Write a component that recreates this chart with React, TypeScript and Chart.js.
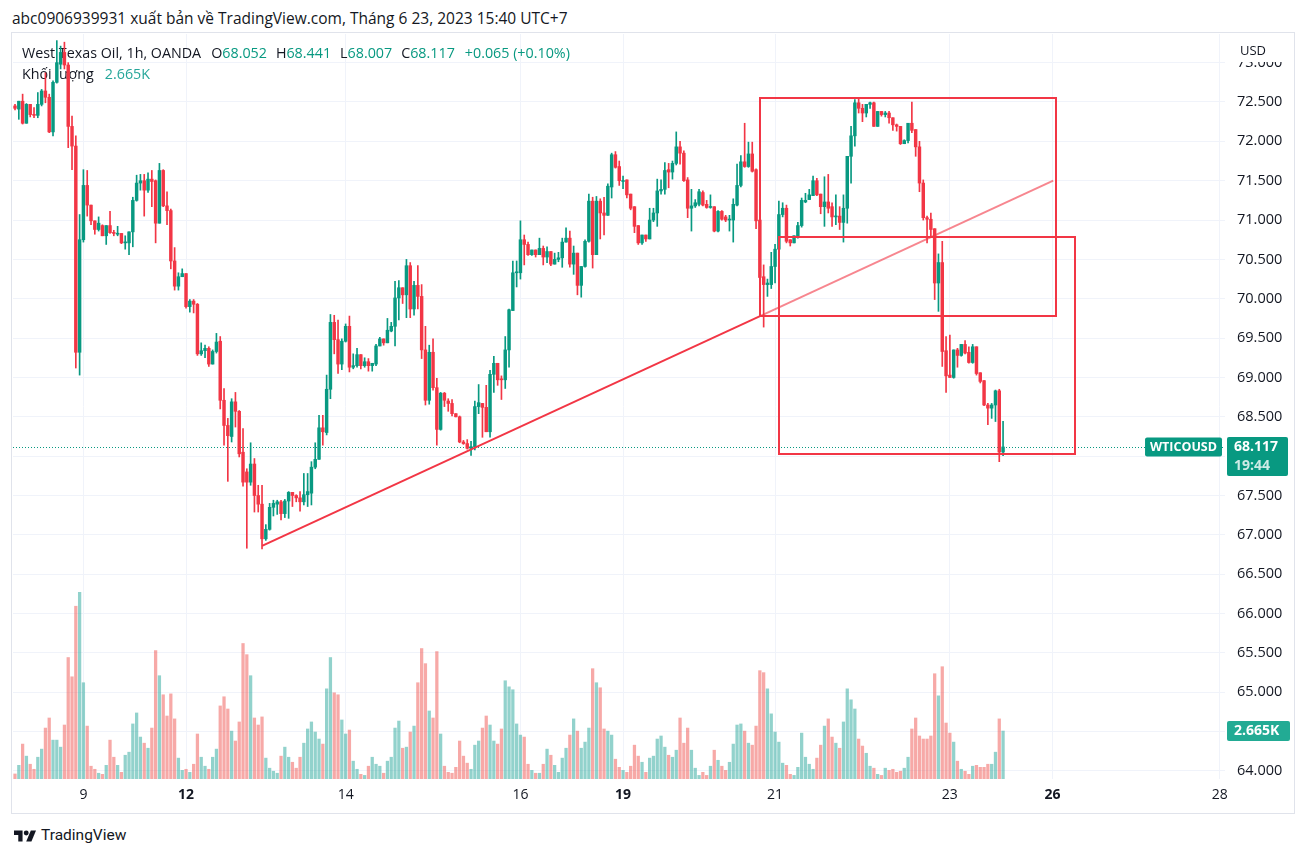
import React, { useEffect, useRef } from "react";
import { Chart, registerables } from "chart.js";

Chart.register(...registerables);

const FONT = "'Open Sans', Roboto, 'Noto Sans', sans-serif";
const UP = "#089981";
const DOWN = "#F23645";
const VUP = "rgba(38,166,154,0.5)";
const VDOWN = "rgba(239,83,80,0.5)";
const DARK = "#131722";
const GRID = "#f0f3fa";

// ---- data (hourly candles, WTICOUSD) ----
const opens = [
  72.45, 72.41, 72.51, 72.23, 72.47, 72.34, 72.33, 72.47, 72.64, 72.56,
  72.12, 72.75, 72.98, 73.13, 72.97, 72.19, 71.94, 69.32, 70.75, 71.44,
  71.19, 70.99, 70.88, 70.93, 70.80, 70.93, 70.84, 70.82, 70.83, 70.71,
  70.71, 70.85, 71.25, 71.47, 71.50, 71.38, 71.52, 71.50, 70.96, 71.63,
  71.18, 71.12, 70.48, 70.16, 70.28, 70.32, 69.90, 69.97, 69.93, 69.30,
  69.34, 69.37, 69.17, 69.33, 69.46, 68.71, 68.39, 68.25, 68.69, 68.57,
  68.05, 67.80, 67.67, 67.90, 67.50, 67.39, 66.95, 67.07, 67.35, 67.39,
  67.42, 67.27, 67.43, 67.54, 67.50, 67.47, 67.42, 67.51, 67.53, 67.86,
  67.96, 68.36, 68.30, 68.85, 69.70, 69.48, 69.17, 69.46, 69.65, 69.13,
  69.15, 69.29, 69.15, 69.20, 69.15, 69.17, 69.40, 69.49, 69.44, 69.59,
  69.65, 70.01, 70.14, 70.05, 70.42, 69.87, 70.17, 70.03, 69.35, 68.71,
  69.32, 68.87, 68.34, 68.80, 68.70, 68.67, 68.54, 68.50, 68.18, 68.16,
  68.10, 68.12, 68.63, 68.67, 68.62, 68.31, 69.04, 69.18, 68.98, 68.97,
  69.35, 69.85, 70.33, 70.33, 70.75, 70.69, 70.56, 70.62, 70.56, 70.64,
  70.53, 70.60, 70.44, 70.50, 70.52, 70.72, 70.77, 70.44, 70.58, 70.17,
  70.41, 70.73, 71.24, 70.56, 71.24, 71.09, 71.06, 71.42, 71.83, 71.68,
  71.49, 71.51, 71.33, 71.17, 70.93, 70.71, 70.81, 70.76, 71.00, 71.09,
  71.37, 71.39, 71.64, 71.61, 71.72, 71.93, 71.85, 71.51, 71.15, 71.18,
  71.20, 71.35, 71.20, 71.16, 71.17, 70.86, 71.11, 71.04, 71.00, 71.00,
  71.19, 71.44, 71.74, 71.68, 71.84, 71.64, 71.00, 70.28, 70.18, 70.18,
  70.41, 70.63, 71.07, 71.15, 70.75, 70.71, 70.78, 70.93, 71.23, 71.26,
  71.31, 71.50, 71.33, 71.17, 71.23, 71.17, 71.04, 71.05, 70.97, 71.15,
  71.81, 72.07, 72.49, 72.42, 72.36, 72.47, 72.49, 72.19, 72.38, 72.34,
  72.36, 72.30, 72.21, 72.19, 71.97, 72.01, 72.23, 72.15, 71.93, 71.47,
  71.03, 71.01, 70.89, 70.20, 70.46, 69.34, 69.03, 69.00, 69.35, 69.28,
  69.42, 69.32, 69.19, 69.39, 69.06, 68.96, 68.65, 68.61, 68.65, 68.83,
  68.052,
];

const highs = [
  72.47, 72.51, 72.60, 72.48, 72.47, 72.43, 72.62, 72.66, 72.87, 72.60,
  72.77, 73.28, 73.21, 73.26, 73.00, 72.32, 72.07, 71.07, 71.64, 71.63,
  71.19, 70.99, 71.04, 70.94, 70.93, 71.11, 70.87, 70.92, 70.83, 70.80,
  70.85, 71.29, 71.57, 71.58, 71.58, 71.60, 71.63, 71.51, 71.72, 71.64,
  71.36, 71.14, 70.65, 70.33, 70.38, 70.32, 69.99, 69.99, 69.94, 69.44,
  69.41, 69.39, 69.35, 69.56, 69.52, 68.86, 68.48, 68.73, 68.81, 68.58,
  68.35, 67.84, 68.17, 67.97, 67.63, 67.63, 67.13, 67.40, 67.44, 67.44,
  67.44, 67.45, 67.55, 67.54, 67.51, 67.55, 67.78, 67.78, 67.93, 68.17,
  68.52, 68.52, 69.03, 69.80, 69.79, 69.73, 69.49, 69.68, 69.78, 69.30,
  69.37, 69.29, 69.25, 69.24, 69.18, 69.42, 69.51, 69.49, 69.75, 69.70,
  70.22, 70.23, 70.14, 70.50, 70.46, 70.22, 70.42, 70.18, 69.65, 69.41,
  69.49, 68.99, 68.81, 68.81, 68.73, 68.72, 68.54, 68.51, 68.20, 68.21,
  68.19, 68.70, 68.91, 68.67, 68.90, 69.09, 69.27, 69.18, 69.02, 69.52,
  69.87, 70.48, 70.48, 70.99, 70.81, 70.72, 70.62, 70.62, 70.77, 70.67,
  70.66, 70.60, 70.58, 70.59, 70.77, 70.90, 70.86, 70.67, 70.58, 70.41,
  70.75, 71.33, 71.29, 71.30, 71.27, 71.29, 71.46, 71.85, 71.87, 71.75,
  71.56, 71.51, 71.33, 71.17, 70.93, 70.81, 70.81, 71.15, 71.15, 71.52,
  71.51, 71.73, 71.72, 71.75, 72.12, 72.00, 71.88, 71.54, 71.39, 71.26,
  71.39, 71.37, 71.25, 71.32, 71.17, 71.12, 71.12, 71.06, 71.06, 71.27,
  71.71, 71.82, 72.23, 71.99, 71.99, 71.65, 71.02, 70.43, 70.25, 70.59,
  70.69, 71.24, 71.22, 71.19, 70.75, 70.80, 70.97, 71.28, 71.34, 71.39,
  71.56, 71.53, 71.33, 71.55, 71.58, 71.22, 71.32, 71.17, 71.32, 71.81,
  72.19, 72.53, 72.55, 72.47, 72.47, 72.50, 72.50, 72.38, 72.38, 72.38,
  72.38, 72.30, 72.22, 72.19, 72.02, 72.23, 72.50, 72.15, 72.00, 71.51,
  71.05, 71.09, 70.89, 70.57, 70.73, 69.52, 69.54, 69.35, 69.37, 69.42,
  69.47, 69.39, 69.42, 69.39, 69.06, 68.96, 68.67, 68.67, 68.84, 68.85,
  68.441,
];

const lows = [
  72.40, 72.28, 72.22, 72.23, 72.31, 72.30, 72.30, 72.45, 72.49, 72.11,
  72.07, 72.74, 72.92, 72.92, 71.92, 71.64, 69.12, 69.03, 70.72, 71.05,
  70.94, 70.82, 70.86, 70.80, 70.69, 70.83, 70.80, 70.80, 70.70, 70.63,
  70.56, 70.66, 71.24, 71.38, 71.05, 71.35, 71.17, 70.71, 70.96, 71.17,
  70.94, 70.38, 70.11, 70.11, 70.28, 69.88, 69.83, 69.82, 69.28, 69.28,
  69.25, 69.14, 69.17, 69.31, 68.60, 68.14, 67.68, 68.18, 68.37, 67.99,
  67.62, 66.83, 67.63, 67.29, 67.29, 66.82, 66.93, 67.06, 67.24, 67.26,
  67.19, 67.22, 67.21, 67.36, 67.42, 67.30, 67.38, 67.36, 67.38, 67.84,
  67.96, 68.14, 68.27, 68.73, 69.30, 69.05, 69.10, 69.45, 69.07, 69.11,
  69.13, 69.11, 69.13, 69.08, 69.08, 69.15, 69.40, 69.41, 69.44, 69.58,
  69.40, 69.73, 69.94, 69.76, 69.76, 69.79, 69.87, 69.24, 68.65, 68.66,
  68.84, 68.14, 68.33, 68.63, 68.57, 68.51, 68.50, 68.17, 68.15, 68.09,
  68.01, 68.08, 68.54, 68.24, 68.31, 68.24, 68.81, 68.90, 68.72, 68.86,
  69.13, 69.85, 70.15, 70.25, 70.43, 70.55, 70.55, 70.53, 70.56, 70.43,
  70.46, 70.42, 70.44, 70.47, 70.40, 70.72, 70.40, 70.31, 70.05, 70.02,
  70.40, 70.72, 70.39, 70.56, 70.76, 70.81, 71.06, 71.28, 71.66, 71.44,
  71.40, 71.28, 71.13, 70.84, 70.69, 70.69, 70.73, 70.76, 70.98, 70.92,
  71.33, 71.33, 71.41, 71.52, 71.70, 71.71, 71.49, 71.03, 70.86, 71.16,
  71.18, 71.18, 71.15, 71.15, 70.85, 70.85, 71.00, 70.98, 70.86, 70.72,
  71.18, 71.42, 71.67, 71.67, 71.61, 70.89, 70.26, 69.64, 70.03, 70.13,
  70.20, 70.42, 71.04, 70.71, 70.67, 70.71, 70.77, 70.91, 71.22, 71.26,
  71.31, 71.31, 71.08, 70.92, 71.09, 70.92, 70.94, 70.88, 70.72, 70.96,
  71.47, 71.94, 72.36, 72.25, 72.31, 72.42, 72.19, 72.19, 72.32, 72.31,
  72.23, 72.14, 72.13, 71.96, 71.97, 71.98, 72.11, 71.81, 71.36, 71.00,
  70.71, 70.80, 69.99, 69.84, 69.14, 68.81, 69.00, 68.99, 69.13, 69.27,
  69.30, 69.18, 69.18, 69.03, 68.93, 68.64, 68.40, 68.48, 68.44, 67.93,
  68.007,
];

const closes = [
  72.42, 72.51, 72.23, 72.47, 72.34, 72.33, 72.47, 72.64, 72.56, 72.12,
  72.75, 73.00, 73.13, 72.97, 72.19, 71.94, 69.32, 70.75, 71.44, 71.19,
  70.99, 70.88, 70.96, 70.80, 70.93, 70.84, 70.83, 70.83, 70.71, 70.72,
  70.85, 71.25, 71.47, 71.50, 71.38, 71.52, 71.49, 70.96, 71.63, 71.18,
  71.12, 70.48, 70.16, 70.28, 70.32, 69.90, 69.97, 69.93, 69.30, 69.34,
  69.37, 69.17, 69.33, 69.45, 68.71, 68.39, 68.26, 68.69, 68.57, 68.03,
  67.67, 67.67, 67.90, 67.50, 67.39, 66.95, 67.07, 67.35, 67.40, 67.42,
  67.27, 67.43, 67.54, 67.50, 67.47, 67.42, 67.51, 67.55, 67.86, 67.96,
  68.36, 68.31, 68.85, 69.70, 69.48, 69.17, 69.46, 69.65, 69.13, 69.15,
  69.29, 69.15, 69.20, 69.15, 69.18, 69.40, 69.49, 69.44, 69.60, 69.65,
  70.01, 70.14, 70.05, 70.42, 69.87, 70.17, 70.03, 69.35, 68.71, 69.32,
  68.87, 68.34, 68.80, 68.71, 68.67, 68.54, 68.50, 68.18, 68.16, 68.10,
  68.12, 68.63, 68.68, 68.62, 68.31, 69.04, 69.18, 68.97, 68.97, 69.35,
  69.86, 70.33, 70.34, 70.75, 70.69, 70.56, 70.62, 70.56, 70.64, 70.53,
  70.60, 70.44, 70.50, 70.52, 70.72, 70.77, 70.44, 70.58, 70.17, 70.41,
  70.73, 71.24, 70.56, 71.24, 71.09, 71.06, 71.43, 71.83, 71.67, 71.50,
  71.50, 71.32, 71.15, 70.92, 70.71, 70.81, 70.76, 71.00, 71.09, 71.37,
  71.39, 71.63, 71.61, 71.72, 71.93, 71.85, 71.50, 71.15, 71.18, 71.22,
  71.36, 71.19, 71.16, 71.17, 70.86, 71.11, 71.01, 71.00, 71.01, 71.20,
  71.44, 71.74, 71.68, 71.84, 71.62, 70.99, 70.27, 70.18, 70.20, 70.41,
  70.63, 71.07, 71.15, 70.73, 70.71, 70.80, 70.93, 71.25, 71.25, 71.32,
  71.50, 71.32, 71.17, 71.23, 71.15, 71.04, 71.05, 70.97, 71.15, 71.81,
  72.07, 72.49, 72.42, 72.36, 72.47, 72.49, 72.19, 72.38, 72.34, 72.36,
  72.30, 72.21, 72.19, 71.97, 72.01, 72.23, 72.14, 71.93, 71.47, 71.03,
  71.01, 70.88, 70.20, 70.46, 69.33, 69.02, 69.00, 69.35, 69.28, 69.42,
  69.31, 69.19, 69.39, 69.05, 68.95, 68.65, 68.61, 68.65, 68.83, 68.052,
  68.117,
];

// volume in thousands
const volumes = [
  0.28, 0.76, 1.94, 1.27, 0.82, 0.54, 1.21, 1.66, 2.83, 3.39,
  2.16, 2.16, 1.77, 3.00, 6.75, 5.68, 9.60, 10.38, 5.35, 2.94,
  0.71, 0.54, 0.32, 0.26, 0.76, 2.16, 1.21, 0.76, 0.37, 1.32,
  1.49, 3.06, 3.67, 2.33, 1.99, 1.71, 2.83, 7.14, 5.74, 4.68,
  3.50, 4.73, 3.34, 1.16, 0.48, 0.54, 0.37, 0.82, 2.50, 1.21,
  0.71, 0.54, 1.21, 1.66, 4.06, 4.57, 3.89, 2.66, 2.11, 3.17,
  7.53, 6.91, 5.74, 3.39, 3.00, 3.45, 1.16, 0.60, 0.43, 0.32,
  1.27, 1.77, 1.21, 0.93, 0.60, 1.21, 1.99, 2.78, 3.17, 2.61,
  2.22, 1.94, 5.01, 6.75, 4.79, 4.68, 3.28, 2.50, 2.72, 0.99,
  0.54, 0.26, 0.20, 0.71, 1.21, 0.82, 0.71, 0.32, 0.99, 1.21,
  2.83, 3.22, 1.71, 1.77, 2.61, 2.94, 5.35, 7.25, 6.41, 3.78,
  3.39, 7.08, 2.50, 0.71, 0.37, 0.32, 0.65, 2.11, 1.27, 0.88,
  0.54, 1.88, 2.11, 2.83, 3.50, 3.00, 2.11, 1.94,
  2.78, 5.46, 5.12, 4.96, 3.06, 2.44, 2.33, 0.82, 0.48, 0.32,
  0.32, 0.82, 1.66, 1.32, 0.76, 0.37, 1.16, 1.71, 2.44, 3.34,
  2.66, 1.71, 2.05, 2.83, 6.13, 5.35, 5.07, 2.78, 2.66, 2.44,
  1.10, 0.65, 0.48, 0.37, 0.71, 1.88, 1.27, 0.93, 0.37, 1.16,
  1.27, 2.22, 2.39, 1.77, 1.32, 1.21, 1.60, 3.39, 1.99, 2.83,
  1.60, 0.60, 0.20, 0.37, 0.20, 0.71, 1.60, 1.04, 0.71, 0.48,
  0.93, 1.94, 3.00, 3.06, 2.66, 1.99, 1.88, 2.94, 6.02, 5.91,
  5.01, 3.62, 2.61, 2.05, 0.88, 0.76, 0.26, 0.20, 0.65, 2.55,
  1.21, 0.82, 0.54, 1.16, 1.88, 2.94, 3.34, 2.33, 1.99, 1.71,
  3.17, 5.01, 4.40, 3.89, 2.22, 1.83, 1.43, 0.71, 0.60, 0.26,
  0.20, 0.60, 0.48, 0.54, 0.37, 0.43, 0.60, 1.21, 2.78, 3.39,
  2.39, 2.22, 2.22, 2.39, 5.85, 4.62, 6.24, 3.11, 2.55, 2.05,
  0.99, 0.54, 0.43, 0.26, 0.71, 0.76, 0.65, 0.65, 0.82, 0.82,
  1.49, 3.34, 2.665,
];

// x-axis: bar index where each labelled day starts
const dayTickIndex = [18, 45, 87, 133, 160, 200, 246, 273, 317];
const dayTickLabels = ["9", "12", "14", "16", "19", "21", "23", "26", "28"];
const dayTickBold = [false, true, false, false, true, false, false, true, false];

const priceTicks = [
  64.0, 64.5, 65.0, 65.5, 66.0, 66.5, 67.0, 67.5, 68.0, 68.5,
  69.0, 69.5, 70.0, 70.5, 71.0, 71.5, 72.0, 72.5, 73.0,
];

// drawings (bar index, price)
const trendPoints = [
  [65, 66.86],
  [196.05, 69.78],
  [273.2, 71.5],
];
const boxRects = [
  [196.05, 72.55, 273.9, 69.78],
  [201.1, 70.79, 278.9, 68.03],
];

const symbolTitle = "West Texas Oil, 1h, OANDA";
const volumeTitle = "Khối lượng";
const tickerName = "WTICOUSD";
const countdown = "19:44";
const headerText =
  "abc0906939931 xuất bản về TradingView.com, Tháng 6 23, 2023 15:40 UTC+7";

const fmtK = (v: number) => v.toFixed(3) + "K";

const overlayPlugin = {
  id: "tvOverlay",
  beforeDatasetsDraw(chart: any) {
    const { ctx, chartArea: a, scales } = chart;
    const last = closes.length - 1;
    const py = Math.round(scales.y.getPixelForValue(closes[last])) + 0.5;
    ctx.save();
    ctx.strokeStyle = UP;
    ctx.lineWidth = 1;
    ctx.setLineDash([1, 2]);
    ctx.beginPath();
    ctx.moveTo(a.left, py);
    ctx.lineTo(a.right, py);
    ctx.stroke();
    ctx.setLineDash([]);

    // legend
    ctx.font = `14.3px ${FONT}`;
    ctx.textBaseline = "middle";
    ctx.textAlign = "left";
    const ch = closes[last] - closes[last - 1];
    const sign = ch >= 0 ? "+" : "";
    const pct = (ch / closes[last - 1]) * 100;
    const line1: [string, string, number][] = [
      [symbolTitle, DARK, 10],
      ["O", DARK, 0],
      [opens[last].toFixed(3), UP, 9],
      ["H", DARK, 0],
      [highs[last].toFixed(3), UP, 9],
      ["L", DARK, 0],
      [lows[last].toFixed(3), UP, 9],
      ["C", DARK, 0],
      [closes[last].toFixed(3), UP, 10],
      [`${sign}${ch.toFixed(3)} (${sign}${pct.toFixed(2)}%)`, UP, 0],
    ];
    let x = a.left + 9;
    for (const [t, c, g] of line1) {
      ctx.fillStyle = c;
      ctx.fillText(t, x, a.top + 20);
      x += ctx.measureText(t).width + g;
    }
    const line2: [string, string, number][] = [
      [volumeTitle, DARK, 11],
      [fmtK(volumes[last]), "#26a69a", 0],
    ];
    x = a.left + 9;
    for (const [t, c, g] of line2) {
      ctx.fillStyle = c;
      ctx.fillText(t, x, a.top + 40.5);
      x += ctx.measureText(t).width + g;
    }
    ctx.restore();
  },
  afterDatasetsDraw(chart: any) {
    const { ctx, chartArea: a, scales } = chart;
    const X = (v: number) => scales.x.getPixelForValue(v);
    const Y = (v: number) => scales.y.getPixelForValue(v);
    ctx.save();
    ctx.beginPath();
    ctx.rect(a.left, a.top, a.right - a.left, a.bottom - a.top);
    ctx.clip();
    ctx.lineWidth = 2;
    // trend line
    ctx.strokeStyle = DOWN;
    ctx.beginPath();
    ctx.moveTo(X(trendPoints[0][0]), Y(trendPoints[0][1]));
    ctx.lineTo(X(trendPoints[1][0]), Y(trendPoints[1][1]));
    ctx.stroke();
    ctx.strokeStyle = "rgba(242,54,69,0.6)";
    ctx.beginPath();
    ctx.moveTo(X(trendPoints[1][0]), Y(trendPoints[1][1]));
    ctx.lineTo(X(trendPoints[2][0]), Y(trendPoints[2][1]));
    ctx.stroke();
    // rectangles
    ctx.strokeStyle = DOWN;
    for (const [x0, p0, x1, p1] of boxRects) {
      const l = Math.round(X(x0));
      const r = Math.round(X(x1));
      const t = Math.round(Y(p0));
      const b = Math.round(Y(p1));
      ctx.strokeRect(l, t, r - l, b - t);
    }
    ctx.restore();
  },
  afterDraw(chart: any) {
    const { ctx, chartArea: a, scales, width } = chart;
    const last = closes.length - 1;
    const py = scales.y.getPixelForValue(closes[last]);
    ctx.save();
    ctx.textBaseline = "middle";
    // USD header on the price axis
    ctx.fillStyle = "#ffffff";
    ctx.fillRect(a.right + 1, 0, width - a.right - 1, 29);
    ctx.fillStyle = DARK;
    ctx.font = `13px ${FONT}`;
    ctx.textAlign = "left";
    ctx.fillText("USD", a.right + 15, 18);

    // ticker label
    ctx.font = `bold 12.5px ${FONT}`;
    const tw = ctx.measureText(tickerName).width;
    const bw = tw + 10;
    const bx = a.right - 3 - bw;
    ctx.fillStyle = UP;
    ctx.beginPath();
    (ctx as any).roundRect(bx, Math.round(py) - 9.5, bw, 19, 2);
    ctx.fill();
    ctx.fillStyle = "#ffffff";
    ctx.textAlign = "center";
    ctx.fillText(tickerName, bx + bw / 2, Math.round(py) + 0.5);

    // last price label
    ctx.fillStyle = UP;
    ctx.beginPath();
    (ctx as any).roundRect(a.right + 2, Math.round(py) - 10, 61, 39, 2);
    ctx.fill();
    ctx.textAlign = "left";
    ctx.font = `bold 14px ${FONT}`;
    ctx.fillStyle = "#ffffff";
    ctx.fillText(closes[last].toFixed(3), a.right + 9, Math.round(py) + 0.5);
    ctx.fillStyle = "rgba(255,255,255,0.8)";
    ctx.fillText(countdown, a.right + 9, Math.round(py) + 19.5);

    // volume label
    const vy = scales.yv.getPixelForValue(volumes[last]);
    ctx.fillStyle = "#22ab94";
    ctx.beginPath();
    (ctx as any).roundRect(a.right + 2, Math.round(vy) - 10, 63, 20, 2);
    ctx.fill();
    ctx.fillStyle = "#ffffff";
    ctx.font = `bold 14px ${FONT}`;
    ctx.fillText(fmtK(volumes[last]), a.right + 9, Math.round(vy) + 0.5);
    ctx.restore();
  },
};

export default function App() {
  const ref = useRef<HTMLCanvasElement>(null);

  useEffect(() => {
    document.body.style.margin = "0";
    const canvas = ref.current;
    if (!canvas) return;
    const idx = closes.map((_, i) => i);
    const isUp = closes.map((c, i) => c >= opens[i]);
    const candleColors = isUp.map((u) => (u ? UP : DOWN));
    const volColors = isUp.map((u) => (u ? VUP : VDOWN));

    const chart = new Chart(canvas, {
      type: "bar",
      data: {
        datasets: [
          {
            label: "body",
            data: idx.map((i) => ({ x: i, y: [opens[i], closes[i]] })) as any,
            backgroundColor: candleColors,
            barThickness: 2.8,
            minBarLength: 1,
            grouped: false,
            order: 1,
            xAxisID: "x",
            yAxisID: "y",
          } as any,
          {
            label: "wick",
            data: idx.map((i) => ({ x: i, y: [lows[i], highs[i]] })) as any,
            backgroundColor: candleColors,
            barThickness: 1,
            minBarLength: 1,
            grouped: false,
            order: 2,
            xAxisID: "x",
            yAxisID: "y",
          } as any,
          {
            label: "volume",
            data: idx.map((i) => ({ x: i, y: volumes[i] })) as any,
            backgroundColor: volColors,
            barThickness: 2.6,
            grouped: false,
            order: 3,
            xAxisID: "x",
            yAxisID: "yv",
          } as any,
        ],
      },
      options: {
        animation: false,
        responsive: false,
        devicePixelRatio: 1,
        events: [],
        layout: { padding: { left: 1, top: 1, right: 0, bottom: 0 } },
        plugins: { legend: { display: false }, tooltip: { enabled: false } },
        scales: {
          x: {
            type: "linear",
            position: "bottom",
            min: -0.53,
            max: 318.4,
            offset: false,
            grid: { color: GRID, drawTicks: false, offset: false },
            border: { display: false },
            afterBuildTicks: (s: any) => {
              s.ticks = dayTickIndex.map((v) => ({ value: v }));
            },
            afterFit: (s: any) => {
              s.height = 34;
              s.paddingLeft = 0;
              s.paddingRight = 0;
            },
            ticks: {
              autoSkip: false,
              maxRotation: 0,
              padding: 8,
              color: DARK,
              font: (c: any) => {
                const k = dayTickIndex.indexOf(c.tick ? c.tick.value : -1);
                return {
                  family: FONT,
                  size: 14,
                  weight: k >= 0 && dayTickBold[k] ? "bold" : "normal",
                };
              },
              callback: (v: any) => {
                const k = dayTickIndex.indexOf(Number(v));
                return k >= 0 ? dayTickLabels[k] : "";
              },
            },
          } as any,
          y: {
            type: "linear",
            position: "right",
            min: 63.898,
            max: 73.364,
            grid: { color: GRID, drawTicks: false },
            border: { display: false },
            afterBuildTicks: (s: any) => {
              s.ticks = priceTicks.map((v) => ({ value: v }));
            },
            afterFit: (s: any) => {
              s.width = 69;
              s.paddingTop = 0;
              s.paddingBottom = 0;
            },
            ticks: {
              padding: 12,
              color: DARK,
              font: { family: FONT, size: 14.5 },
              callback: (v: any) => Number(v).toFixed(3),
            },
          } as any,
          yv: {
            type: "linear",
            display: false,
            min: 0,
            max: 41.4,
          } as any,
        },
      },
      plugins: [overlayPlugin as any],
    });
    return () => chart.destroy();
  }, []);

  return (
    <div
      style={{
        position: "absolute",
        left: 0,
        top: 0,
        width: 1307,
        height: 857,
        background: "#ffffff",
        fontFamily: FONT,
        color: DARK,
      }}
    >
      <div
        style={{
          position: "absolute",
          left: 12,
          top: 8,
          fontSize: 15.5,
          lineHeight: "20px",
          whiteSpace: "nowrap",
        }}
      >
        {headerText}
      </div>
      <div
        style={{
          position: "absolute",
          left: 11,
          top: 32,
          width: 1282,
          height: 780,
          border: "1px solid #e0e3eb",
        }}
      >
        <canvas
          ref={ref}
          width={1282}
          height={780}
          style={{ display: "block", width: 1282, height: 780 }}
        />
      </div>
      <div
        style={{
          position: "absolute",
          left: 14,
          top: 826,
          display: "flex",
          alignItems: "center",
          gap: 5,
          whiteSpace: "nowrap",
        }}
      >
        <svg width="22" height="15" viewBox="0 0 36 24">
          <path d="M14 22H7V11H0V4h14v18z" fill={DARK} />
          <circle cx="20" cy="8" r="4" fill={DARK} />
          <path d="M28.5 22h-8.5l7.5-18h8.5z" fill={DARK} />
        </svg>
        <span style={{ fontSize: 15.5, lineHeight: "18px", fontFamily: "Roboto, sans-serif" }}>TradingView</span>
      </div>
    </div>
  );
}
